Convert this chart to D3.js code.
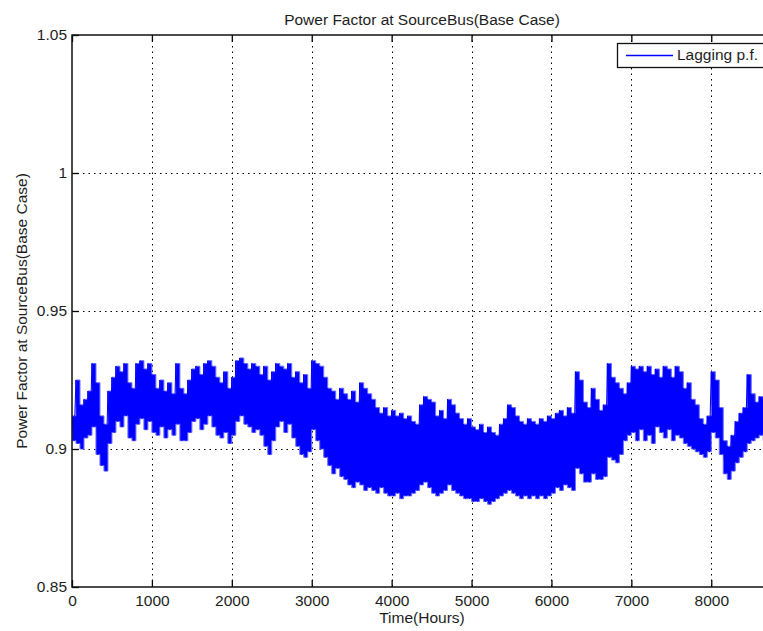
<!DOCTYPE html>
<html>
<head>
<meta charset="utf-8">
<script src="https://cdn.jsdelivr.net/npm/d3@7"></script>
<style>
  html, body { margin: 0; padding: 0; background: #fff; }
  svg { display: block; }
  text { font-family: "Liberation Sans", Arial, Helvetica, sans-serif; fill: #1e1e1e; }
</style>
</head>
<body>
<svg id="chart" width="763" height="631"></svg>
<script>
// Hourly power factor over one year, summarised per 50-hour window:
// the highest and lowest value reached inside each window.
const windowHours = 50;
const pfHigh = [
  0.912, 0.925, 0.916, 0.918, 0.921, 0.931, 0.924, 0.912, 0.909, 0.921,
  0.926, 0.930, 0.928, 0.931, 0.924, 0.922, 0.931, 0.932, 0.929, 0.931,
  0.927, 0.922, 0.925, 0.921, 0.924, 0.920, 0.931, 0.922, 0.920, 0.925,
  0.929, 0.930, 0.927, 0.931, 0.932, 0.930, 0.926, 0.924, 0.928, 0.922,
  0.926, 0.932, 0.933, 0.931, 0.929, 0.931, 0.930, 0.927, 0.930, 0.925,
  0.928, 0.931, 0.930, 0.929, 0.931, 0.926, 0.928, 0.924, 0.927, 0.922,
  0.932, 0.931, 0.930, 0.926, 0.922, 0.921, 0.918, 0.922, 0.920, 0.918,
  0.921, 0.917, 0.924, 0.922, 0.920, 0.918, 0.915, 0.913, 0.915, 0.912,
  0.914, 0.912, 0.913, 0.911, 0.912, 0.910, 0.909, 0.916, 0.919, 0.918,
  0.917, 0.912, 0.914, 0.911, 0.918, 0.916, 0.913, 0.911, 0.909, 0.911,
  0.908, 0.907, 0.909, 0.906, 0.908, 0.906, 0.905, 0.909, 0.911, 0.916,
  0.915, 0.912, 0.910, 0.909, 0.911, 0.910, 0.909, 0.911, 0.910, 0.912,
  0.911, 0.913, 0.914, 0.912, 0.915, 0.913, 0.928, 0.925, 0.917, 0.915,
  0.922, 0.918, 0.914, 0.916, 0.931, 0.926, 0.924, 0.922, 0.920, 0.924,
  0.930, 0.929, 0.930, 0.928, 0.930, 0.927, 0.929, 0.926, 0.930, 0.929,
  0.926, 0.930, 0.928, 0.922, 0.924, 0.918, 0.916, 0.911, 0.909, 0.912,
  0.928, 0.925, 0.915, 0.903, 0.901, 0.905, 0.910, 0.913, 0.915, 0.927,
  0.920, 0.917, 0.919, 0.918, 0.916, 0.914
];
const pfLow = [
  0.903, 0.902, 0.900, 0.904, 0.905, 0.908, 0.898, 0.894, 0.892, 0.902,
  0.906, 0.910, 0.908, 0.912, 0.904, 0.903, 0.909, 0.911, 0.907, 0.910,
  0.906, 0.905, 0.908, 0.904, 0.907, 0.905, 0.909, 0.903, 0.903, 0.906,
  0.910, 0.911, 0.907, 0.909, 0.912, 0.908, 0.905, 0.904, 0.906, 0.902,
  0.905, 0.910, 0.912, 0.909, 0.908, 0.906, 0.907, 0.905, 0.901, 0.898,
  0.903, 0.908, 0.910, 0.906, 0.909, 0.904, 0.901, 0.898, 0.897, 0.899,
  0.907, 0.903, 0.900, 0.897, 0.894, 0.891, 0.893, 0.890, 0.889, 0.887,
  0.886, 0.888, 0.887, 0.885, 0.886, 0.885, 0.884, 0.886, 0.884, 0.883,
  0.883, 0.884, 0.882, 0.883, 0.883, 0.884, 0.885, 0.887, 0.888, 0.886,
  0.884, 0.883, 0.884, 0.885, 0.887, 0.885, 0.884, 0.883, 0.882, 0.882,
  0.881, 0.881, 0.882, 0.881, 0.880, 0.881, 0.882, 0.883, 0.884, 0.885,
  0.884, 0.883, 0.882, 0.883, 0.882, 0.883, 0.882, 0.883, 0.882, 0.883,
  0.884, 0.886, 0.885, 0.887, 0.886, 0.885, 0.893, 0.891, 0.888, 0.888,
  0.891, 0.889, 0.889, 0.890, 0.897, 0.896, 0.895, 0.898, 0.903, 0.905,
  0.906, 0.903, 0.907, 0.903, 0.905, 0.902, 0.908, 0.906, 0.904, 0.907,
  0.903, 0.905, 0.904, 0.902, 0.901, 0.900, 0.899, 0.898, 0.897, 0.899,
  0.906, 0.904, 0.898, 0.891, 0.889, 0.892, 0.895, 0.897, 0.899, 0.902,
  0.903, 0.904, 0.905, 0.903, 0.904, 0.903
];

const xTicks = [0, 1000, 2000, 3000, 4000, 5000, 6000, 7000, 8000];
const yTicks = [0.85, 0.9, 0.95, 1, 1.05];
const yTickLabels = ["0.85", "0.9", "0.95", "1", "1.05"];
const titleText = "Power Factor at SourceBus(Base Case)";
const xLabelText = "Time(Hours)";
const yLabelText = "Power Factor at SourceBus(Base Case)";
const legendText = "Lagging p.f.";

(function drawChart() {
  const svg = d3.select("#chart");
  const plotLeft = 72, plotRight = 772, plotTop = 35, plotBottom = 587;
  const fontSize = 15.5;
  const traceBlue = "#0000ff";

  const x = d3.scaleLinear().domain([0, 8760]).range([plotLeft, plotRight]);
  const y = d3.scaleLinear().domain([0.85, 1.05]).range([plotBottom, plotTop]);

  // one record per window: start hour, peak, trough
  const windows = pfHigh.map((hi, i) => ({ h: i * windowHours, hi, lo: pfLow[i] }));
  // closing edge of the last window
  const last = windows[windows.length - 1];
  const bandData = windows.concat([{ h: last.h + windowHours, hi: last.hi, lo: last.lo }]);

  // peak then trough of every window, for the oscillating trace
  const trace = [];
  windows.forEach(w => {
    trace.push([w.h, w.hi]);
    trace.push([w.h + windowHours / 2, w.lo]);
  });

  svg.append("defs").append("clipPath").attr("id", "plotArea")
    .append("rect").attr("x", plotLeft).attr("y", plotTop)
    .attr("width", plotRight - plotLeft).attr("height", plotBottom - plotTop);

  // dotted grid
  const grid = svg.append("g").attr("stroke", "#000").attr("stroke-width", 1)
    .attr("stroke-dasharray", "1.5,4");
  grid.selectAll("line.v").data(xTicks.filter(d => d > 0)).join("line")
    .attr("class", "v")
    .attr("x1", d => Math.round(x(d)) + 0.5).attr("x2", d => Math.round(x(d)) + 0.5)
    .attr("y1", plotTop).attr("y2", plotBottom);
  grid.selectAll("line.h").data(yTicks.filter(d => d > 0.85 && d < 1.05)).join("line")
    .attr("class", "h")
    .attr("y1", d => Math.round(y(d)) + 0.5).attr("y2", d => Math.round(y(d)) + 0.5)
    .attr("x1", plotLeft).attr("x2", plotRight);

  const plot = svg.append("g").attr("clip-path", "url(#plotArea)");

  // range covered inside each window, with a soft lighter rim
  plot.append("path")
    .datum(bandData)
    .attr("fill", traceBlue)
    .attr("stroke", "#6a6aff")
    .attr("stroke-width", 1)
    .attr("d", d3.area().curve(d3.curveStepAfter)
      .x(d => x(d.h)).y0(d => y(d.lo)).y1(d => y(d.hi)));

  // power factor trace swinging between peaks and troughs
  plot.append("path")
    .datum(trace)
    .attr("fill", "none")
    .attr("stroke", traceBlue)
    .attr("stroke-width", 1)
    .attr("stroke-linejoin", "round")
    .attr("d", d3.line().x(d => x(d[0])).y(d => y(d[1])));

  // axes with inward ticks
  const styleAxis = g => {
    g.select(".domain").remove();
    g.selectAll(".tick line").attr("stroke", "#000").attr("stroke-width", 1.3);
    g.selectAll("text").attr("font-size", fontSize)
      .attr("font-family", "Liberation Sans, Arial, sans-serif").attr("fill", "#1e1e1e");
  };
  svg.append("g").attr("transform", `translate(0,${plotBottom})`)
    .call(d3.axisBottom(x).tickValues(xTicks).tickSize(-7).tickPadding(8).tickFormat(d3.format("d")))
    .call(styleAxis);
  svg.append("g").attr("transform", `translate(0,${plotTop})`)
    .call(d3.axisTop(x).tickValues(xTicks).tickSize(-7).tickFormat(""))
    .call(styleAxis);
  svg.append("g").attr("transform", `translate(${plotLeft},0)`)
    .call(d3.axisLeft(y).tickValues(yTicks).tickSize(-7).tickPadding(5)
      .tickFormat((d, i) => yTickLabels[i]))
    .call(styleAxis);
  svg.append("g").attr("transform", `translate(${plotRight},0)`)
    .call(d3.axisRight(y).tickValues(yTicks).tickSize(-7).tickFormat(""))
    .call(styleAxis);

  // frame
  svg.append("rect")
    .attr("x", plotLeft).attr("y", plotTop)
    .attr("width", plotRight - plotLeft).attr("height", plotBottom - plotTop)
    .attr("fill", "none").attr("stroke", "#111").attr("stroke-width", 1.5);

  // title and axis labels
  svg.append("text").attr("x", (plotLeft + plotRight) / 2).attr("y", 24.5)
    .attr("text-anchor", "middle").attr("font-size", fontSize).text(titleText);
  svg.append("text").attr("x", (plotLeft + plotRight) / 2).attr("y", 623)
    .attr("text-anchor", "middle").attr("font-size", fontSize).text(xLabelText);
  svg.append("text")
    .attr("transform", `translate(27,${(plotTop + plotBottom) / 2}) rotate(-90)`)
    .attr("text-anchor", "middle").attr("font-size", fontSize).text(yLabelText);

  // legend
  const legend = svg.append("g");
  legend.append("rect").attr("x", 617.5).attr("y", 43.5).attr("width", 150).attr("height", 24)
    .attr("fill", "#fff").attr("stroke", "#111").attr("stroke-width", 1.3);
  legend.append("line").attr("x1", 626).attr("x2", 673).attr("y1", 55.5).attr("y2", 55.5)
    .attr("stroke", traceBlue).attr("stroke-width", 1.3);
  legend.append("text").attr("x", 677).attr("y", 60).attr("font-size", fontSize).text(legendText);
})();
</script>
</body>
</html>
